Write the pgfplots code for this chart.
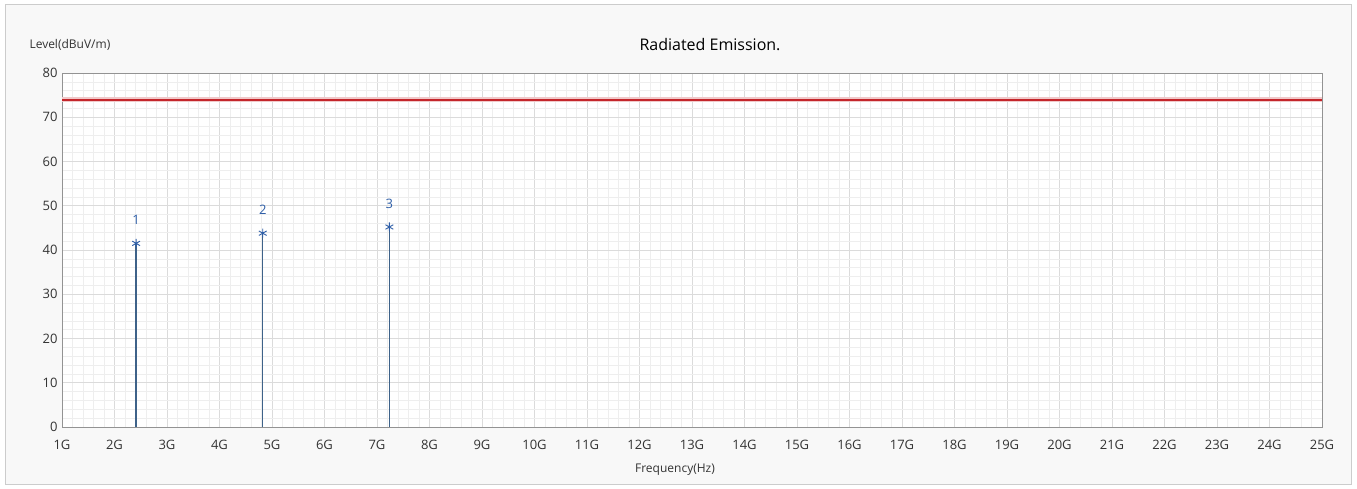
\documentclass[border=0pt]{standalone}
\usepackage{pgfplots}
\pgfplotsset{compat=1.18}
\usepackage{fontspec}
\setmainfont{Open Sans}
\definecolor{stemc}{HTML}{3E6289}
\definecolor{lblc}{HTML}{2F5FA8}
\definecolor{limc}{HTML}{C4262B}
\definecolor{bgc}{HTML}{F8F8F8}
\definecolor{txtc}{HTML}{333333}
\begin{document}
\begin{tikzpicture}[x=1pt,y=1pt]
\fill[white] (0,0) rectangle (1357,488);
\draw[gray!40, fill=bgc] (5,4) rectangle (1351,484);
\begin{axis}[
  at={(62pt,61pt)}, anchor=south west,
  scale only axis, width=1260pt, height=354pt,
  xmin=1, xmax=25, ymin=0, ymax=80,
  axis background/.style={fill=white},
  xtick={1,...,25},
  xticklabels={1G,2G,3G,4G,5G,6G,7G,8G,9G,10G,11G,12G,13G,14G,15G,16G,17G,18G,19G,20G,21G,22G,23G,24G,25G},
  ytick={0,10,...,80},
  minor x tick num=4, minor y tick num=4,
  grid=both,
  major grid style={gray!28, line width=0.6pt},
  minor grid style={gray!13, line width=0.5pt},
  major tick length=0pt, minor tick length=0pt,
  axis line style={gray!85, line width=0.9pt},
  tick label style={font=\fontsize{13}{15}\selectfont, text=txtc},
  /pgf/number format/assume math mode=true,
  xticklabel style={yshift=-10pt},
  yticklabel style={xshift=-1pt},
  clip=false,
]
\addplot[limc!25, line width=5pt, forget plot] coordinates {(1,74) (25,74)};
\addplot[limc, line width=2pt, forget plot] coordinates {(1,74) (25,74)};
\addplot[ycomb, draw=stemc, line width=1.3pt, mark=none, forget plot]
  coordinates {(2.412,41.5) (4.824,43.8) (7.236,45.2)};
\addplot[only marks, mark=asterisk,
  mark options={draw=lblc, line width=0.9pt, mark size=4.5pt},
  point meta=explicit symbolic,
  nodes near coords,
  every node near coord/.append style={font=\fontsize{13}{15}\selectfont, text=lblc, yshift=15pt}, forget plot]
  coordinates {(2.412,41.5) [1] (4.824,43.8) [2] (7.236,45.2) [3]};
\end{axis}
\node[font=\fontsize{12}{14}\selectfont, text=txtc, anchor=west] at (26,443) {Level(dBuV/m)};
\node[font=\fontsize{16}{18}\selectfont, text=black] at (710,443) {Radiated Emission.};
\node[font=\fontsize{12}{14}\selectfont, text=txtc] at (675,18) {Frequency(Hz)};
\end{tikzpicture}
\end{document}
